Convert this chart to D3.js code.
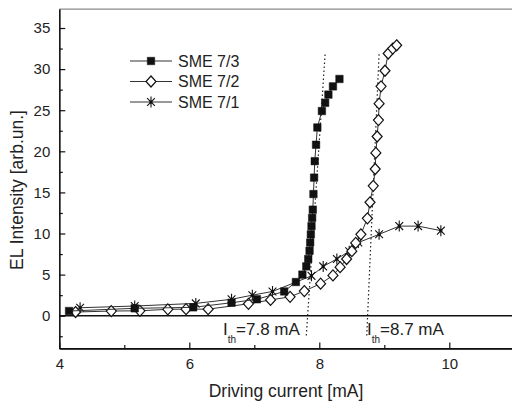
<!DOCTYPE html>
<html>
<head>
<meta charset="utf-8">
<script src="https://cdn.jsdelivr.net/npm/d3@7"></script>
<style>
  body { margin: 0; background: #fff; }
  svg { display: block; font-family: "Liberation Sans", Arial, sans-serif; }
</style>
</head>
<body>
<svg id="chart" width="512" height="402"></svg>
<script>
// SME 7/3 (filled squares)
const current73 = [4.15, 5.16, 6.06, 6.65, 7.04, 7.46, 7.64, 7.74, 7.80, 7.83, 7.85, 7.86, 7.87, 7.88, 7.89, 7.90, 7.91, 7.92, 7.93, 7.95, 7.97, 8.04, 8.09, 8.14, 8.21, 8.31]
const intensity73 = [0.57, 0.9, 1.02, 1.58, 2.0, 2.95, 4.1, 5.0, 6.0, 6.9, 7.9, 8.9, 9.9, 10.9, 11.9, 12.9, 14.8, 16.8, 18.8, 20.8, 22.9, 24.9, 25.9, 26.9, 27.9, 28.8]
// SME 7/2 (open diamonds)
const current72 = [4.25, 4.8, 5.24, 5.67, 5.95, 6.29, 6.91, 7.25, 7.55, 7.77, 8.02, 8.21, 8.32, 8.42, 8.5, 8.56, 8.64, 8.74, 8.78, 8.83, 8.86, 8.87, 8.89, 8.91, 8.92, 8.95, 9.01, 9.06, 9.13, 9.19]
const intensity72 = [0.45, 0.57, 0.6, 0.78, 0.8, 0.8, 1.45, 1.92, 2.3, 3.0, 3.9, 4.9, 5.9, 6.9, 7.85, 8.85, 9.9, 11.85, 13.8, 15.8, 17.85, 19.8, 21.8, 23.8, 25.8, 27.9, 29.8, 31.9, 32.5, 32.9]
// SME 7/1 (asterisks)
const current71 = [4.32, 5.16, 6.1, 6.65, 6.97, 7.28, 7.88, 8.06, 8.27, 8.46, 8.6, 8.92, 9.23, 9.52, 9.87]
const intensity71 = [0.97, 1.18, 1.5, 2.0, 2.5, 2.95, 4.85, 6.0, 6.9, 7.85, 8.9, 9.9, 10.9, 10.9, 10.35]

const seriesNames = ["SME 7/3", "SME 7/2", "SME 7/1"]
const xTicks = [4, 6, 8, 10]
const xMinorTicks = [5, 7, 9]
const yTicks = [0, 5, 10, 15, 20, 25, 30, 35]
const yMinorTicks = [-2.5, 2.5, 7.5, 12.5, 17.5, 22.5, 27.5, 32.5]
// threshold fit lines: [current, intensity] end points
const thresholds = [
    {label: "7.8 mA", line: [[7.80, -2.4], [8.09, 31.9]]},
    {label: "8.7 mA", line: [[8.73, -2.4], [8.92, 31.9]]}
]

const svg = d3.select("#chart")
const x = d3.scaleLinear().domain([4, 11]).range([59.3, 514.3])
const y = d3.scaleLinear().domain([-4, 37.3]).range([348.6, 9.1])

// frame
svg.append("line")
    .attr("x1", x(4)).attr("x2", 512).attr("y1", y(37.3)).attr("y2", y(37.3))
    .attr("stroke", "#8a8a8a").attr("stroke-width", 1.2)

const xAxis = svg.append("g").attr("transform", `translate(0,${y(-4)})`)
    .call(d3.axisBottom(x).tickValues(xTicks).tickFormat(d3.format("d"))
        .tickSizeInner(-6).tickSizeOuter(0).tickPadding(10))
const xMinor = svg.append("g").attr("transform", `translate(0,${y(-4)})`)
    .call(d3.axisBottom(x).tickValues(xMinorTicks).tickFormat("")
        .tickSizeInner(-3.5).tickSizeOuter(0))
const yAxis = svg.append("g").attr("transform", `translate(${x(4)},0)`)
    .call(d3.axisLeft(y).tickValues(yTicks).tickFormat(d3.format("d"))
        .tickSizeInner(-6).tickSizeOuter(0).tickPadding(9))
const yMinor = svg.append("g").attr("transform", `translate(${x(4)},0)`)
    .call(d3.axisLeft(y).tickValues(yMinorTicks).tickFormat("")
        .tickSizeInner(-3.5).tickSizeOuter(0))

;[xAxis, xMinor, yAxis, yMinor].forEach(g => {
    g.select(".domain").attr("stroke", "#111").attr("stroke-width", 1.2)
    g.selectAll(".tick line").attr("stroke", "#111").attr("stroke-width", 1.2)
    g.selectAll("text").attr("fill", "#222").style("font-size", "15px")
        .style("font-family", "'Liberation Sans', Arial, sans-serif")
})
xAxis.select(".domain").attr("d", `M${x(4)},0H512`)

// zero line
svg.append("line")
    .attr("x1", x(4)).attr("x2", 512).attr("y1", y(0)).attr("y2", y(0))
    .attr("stroke", "#111").attr("stroke-width", 1.5)

// axis titles
svg.append("text")
    .attr("x", 286).attr("y", 397)
    .attr("text-anchor", "middle")
    .style("font-size", "17.5px").attr("fill", "#222")
    .text("Driving current [mA]")
svg.append("text")
    .attr("transform", "translate(23,190) rotate(-90)")
    .attr("text-anchor", "middle")
    .style("font-size", "17.5px").attr("fill", "#222")
    .text("EL Intensity [arb.un.]")

// threshold dotted lines
thresholds.forEach(t => {
    svg.append("line")
        .attr("x1", x(t.line[0][0])).attr("y1", y(t.line[0][1]))
        .attr("x2", x(t.line[1][0])).attr("y2", y(t.line[1][1]))
        .attr("stroke", "#222").attr("stroke-width", 1.2)
        .attr("stroke-dasharray", "1.5,2.5")
})

// threshold labels
const labelX = [223, 367]
thresholds.forEach((t, i) => {
    const txt = svg.append("text")
        .attr("x", labelX[i]).attr("y", 335)
        .style("font-size", "17px").attr("fill", "#222")
    txt.append("tspan").text("I")
    txt.append("tspan").attr("dy", 8).style("font-size", "10px").text("th")
    txt.append("tspan").attr("dy", -8).text("=" + t.label)
})

// markers
function asteriskPath(r) {
    const a = r * Math.cos(Math.PI / 4)
    return `M0,${-r}L0,${r}M${-a},${-a}L${a},${a}M${-a},${a}L${a},${-a}`
}
const squarePath = d3.symbol(d3.symbolSquare, 56)()
const diamondPath = "M0,-5.5L5,0L0,5.5L-5,0Z"

function drawMarker(g, kind) {
    if (kind === 0) {
        g.append("path").attr("d", squarePath).attr("fill", "#111").attr("stroke", "#111").attr("stroke-width", 0.5)
    } else if (kind === 1) {
        g.append("path").attr("d", diamondPath).attr("fill", "#fff").attr("stroke", "#111").attr("stroke-width", 1.2)
    } else {
        g.append("path").attr("d", asteriskPath(5.5)).attr("fill", "none").attr("stroke", "#111").attr("stroke-width", 1.1)
        g.append("circle").attr("r", 1.6).attr("fill", "#111")
    }
}

const series = [
    d3.zip(current73, intensity73),
    d3.zip(current72, intensity72),
    d3.zip(current71, intensity71)
]
const line = d3.line().x(d => x(d[0])).y(d => y(d[1]))

// draw 7/1 first, then 7/2, then 7/3 on top
;[2, 1, 0].forEach(k => {
    svg.append("path")
        .datum(series[k])
        .attr("d", line)
        .attr("fill", "none")
        .attr("stroke", "#333")
        .attr("stroke-width", 1)
    svg.append("g").selectAll("g")
        .data(series[k])
        .join("g")
        .attr("transform", d => `translate(${x(d[0])},${y(d[1])})`)
        .each(function () { drawMarker(d3.select(this), k) })
})

// legend
const legendY = [61, 81.5, 102]
seriesNames.forEach((name, i) => {
    const g = svg.append("g").attr("transform", `translate(0,${legendY[i]})`)
    g.append("line").attr("x1", 130).attr("x2", 172).attr("stroke", "#333").attr("stroke-width", 1)
    const m = g.append("g").attr("transform", "translate(151,0)")
    drawMarker(m, i)
    g.append("text").attr("x", 178).attr("y", 5.5)
        .style("font-size", "16px").attr("fill", "#222").text(name)
})
</script>
</body>
</html>
